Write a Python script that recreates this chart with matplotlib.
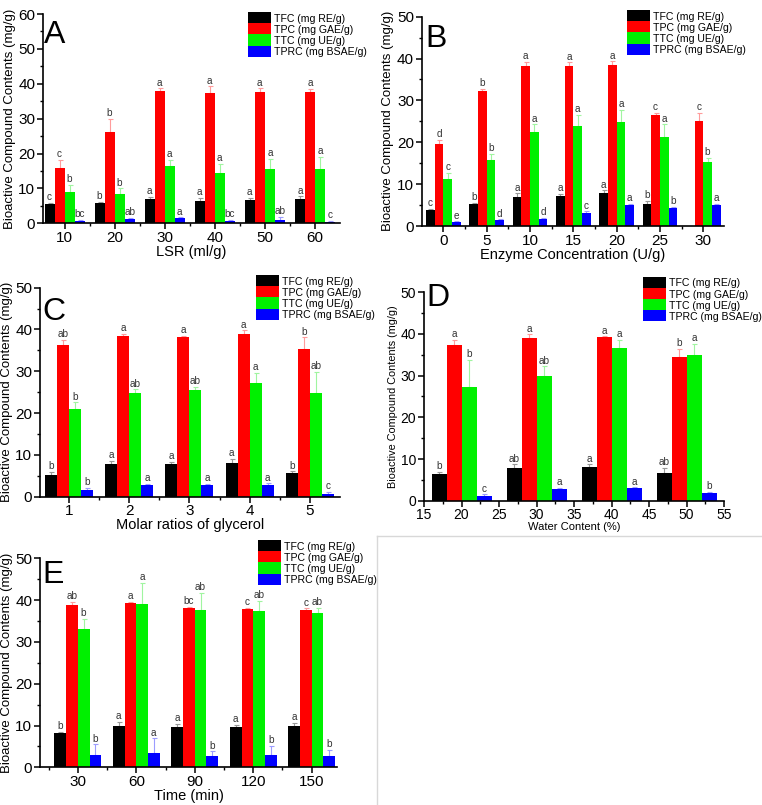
import numpy as np
import matplotlib
matplotlib.use("Agg")
from matplotlib import pyplot as plt
from matplotlib.lines import Line2D
from matplotlib.patches import Rectangle

plt.rcParams['font.family'] = ['Liberation Sans', 'DejaVu Sans']

series_names = ['TFC (mg RE/g)', 'TPC (mg GAE/g)', 'TTC (mg UE/g)', 'TPRC (mg BSAE/g)']

# A: liquid-solid ratio
lsr = [10, 20, 30, 40, 50, 60]
a_tfc = [5.6, 5.8, 7.0, 6.5, 6.7, 6.9]
a_tpc = [15.8, 26.3, 37.9, 37.3, 37.5, 37.7]
a_ttc = [9.0, 8.5, 16.4, 14.5, 15.5, 15.5]
a_tprc = [0.8, 1.2, 1.4, 0.7, 1.0, 0.5]
a_tfc_err = [0.3, 0.3, 0.5, 0.7, 0.5, 0.8]
a_tpc_err = [2.4, 3.6, 0.8, 2.0, 1.2, 0.8]
a_ttc_err = [2.0, 1.5, 1.8, 2.5, 3.0, 3.5]
a_tprc_err = [0.2, 0.3, 0.3, 0.2, 0.8, 0.2]
a_tfc_lab = ['c', 'b', 'a', 'a', 'a', 'a']
a_tpc_lab = ['c', 'b', 'a', 'a', 'a', 'a']
a_ttc_lab = ['b', 'b', 'a', 'a', 'a', 'a']
a_tprc_lab = ['bc', 'ab', 'a', 'bc', 'ab', 'c']

# B: enzyme concentration
enzyme = [0, 5, 10, 15, 20, 25, 30]
b_tfc = [3.8, 5.2, 7.0, 7.1, 7.8, 5.2, np.nan]
b_tpc = [19.7, 32.2, 38.2, 38.3, 38.5, 26.5, 25.0]
b_ttc = [11.2, 15.8, 22.5, 24.0, 24.8, 21.3, 15.3]
b_tprc = [0.9, 1.4, 1.7, 3.2, 5.0, 4.2, 5.0]
b_tfc_err = [0.3, 0.4, 0.8, 0.5, 0.7, 0.8, 0.0]
b_tpc_err = [0.8, 0.5, 1.0, 0.8, 0.8, 0.5, 2.0]
b_ttc_err = [1.5, 1.5, 1.8, 2.5, 3.0, 3.0, 1.0]
b_tprc_err = [0.2, 0.2, 0.2, 0.3, 0.3, 0.3, 0.3]
b_tfc_lab = ['c', 'b', 'a', 'a', 'a', 'b', '']
b_tpc_lab = ['d', 'b', 'a', 'a', 'a', 'c', 'c']
b_ttc_lab = ['c', 'b', 'a', 'a', 'a', 'a', 'b']
b_tprc_lab = ['e', 'd', 'd', 'c', 'a', 'b', 'a']

# C: molar ratio of glycerol
glycerol = [1, 2, 3, 4, 5]
c_tfc = [5.2, 7.9, 7.8, 8.0, 5.6]
c_tpc = [36.3, 38.5, 38.1, 38.9, 35.3]
c_ttc = [21.1, 24.9, 25.5, 27.3, 24.9]
c_tprc = [1.7, 2.8, 2.8, 2.9, 0.6]
c_tfc_err = [0.7, 0.6, 0.6, 1.0, 0.5]
c_tpc_err = [1.3, 0.5, 0.3, 0.9, 2.8]
c_ttc_err = [1.5, 0.8, 0.8, 2.3, 5.0]
c_tprc_err = [0.5, 0.3, 0.2, 0.3, 0.6]
c_tfc_lab = ['b', 'a', 'a', 'a', 'b']
c_tpc_lab = ['ab', 'a', 'a', 'a', 'b']
c_ttc_lab = ['b', 'ab', 'ab', 'a', 'ab']
c_tprc_lab = ['b', 'a', 'a', 'a', 'c']

# D: water content
water = [20, 30, 40, 50]
d_tfc = [6.4, 7.9, 8.2, 6.7]
d_tpc = [37.3, 38.9, 39.2, 34.4]
d_ttc = [27.2, 30.0, 36.5, 35.0]
d_tprc = [1.1, 2.9, 3.0, 1.9]
d_tfc_err = [0.6, 0.8, 0.5, 1.1]
d_tpc_err = [1.2, 1.0, 0.2, 2.0]
d_ttc_err = [6.5, 2.2, 2.0, 2.6]
d_tprc_err = [0.4, 0.2, 0.2, 0.2]
d_tfc_lab = ['b', 'ab', 'a', 'ab']
d_tpc_lab = ['a', 'a', 'a', 'b']
d_ttc_lab = ['b', 'ab', 'a', 'a']
d_tprc_lab = ['c', 'a', 'a', 'b']

# E: extraction time
time_min = [30, 60, 90, 120, 150]
e_tfc = [8.2, 10.0, 9.6, 9.7, 9.8]
e_tpc = [38.8, 39.2, 38.1, 37.9, 37.7]
e_ttc = [33.2, 39.0, 37.7, 37.5, 36.9]
e_tprc = [3.0, 3.4, 2.8, 2.9, 2.8]
e_tfc_err = [0.3, 0.8, 0.8, 0.4, 0.8]
e_tpc_err = [0.8, 0.3, 0.3, 0.2, 0.3]
e_ttc_err = [2.3, 5.2, 4.0, 2.3, 1.3]
e_tprc_err = [2.5, 3.5, 1.0, 2.2, 1.3]
e_tfc_lab = ['b', 'a', 'a', 'a', 'a']
e_tpc_lab = ['ab', 'a', 'bc', 'c', 'c']
e_ttc_lab = ['b', 'a', 'ab', 'ab', 'ab']
e_tprc_lab = ['b', 'a', 'b', 'b', 'b']

bar_colors = ['#000000', '#ff0000', '#00f000', '#0000ff']
err_colors = ['#999999', '#ff9c9c', '#a0f5a0', '#9c9cff']

W, H = 762, 805


def rect(l, r, t, b):
    return [l / W, 1 - b / H, (r - l) / W, (b - t) / H]


def add_legend(fig, x0, y0, row=11.2, pw=23):
    # Origin-style legend: contiguous colour blocks with labels
    for i, name in enumerate(series_names):
        top = y0 + i * row
        fig.add_artist(Rectangle((x0 / W, 1 - (top + row) / H), pw / W, row / H,
                                 transform=fig.transFigure, color=bar_colors[i],
                                 linewidth=0))
        fig.text((x0 + pw + 3) / W, 1 - (top + row / 2) / H, name,
                 fontsize=7.6, va='center_baseline', ha='left')


def draw_panel(ax, x, vals, errs, labs, width, xlim, ylim, xticks, xlabel,
               letter, letter_off, leg_xy, lab_fs=10.5, ylab_fs=9.5, tick_fs=11):
    x = np.asarray(x, dtype=float)
    for i in range(4):
        pos = x + (i - 1.5) * width
        v = np.asarray(vals[i], dtype=float)
        e = np.asarray(errs[i], dtype=float)
        ax.bar(pos, v, width, color=bar_colors[i], linewidth=0, zorder=2)
        ok = ~np.isnan(v)
        ax.errorbar(pos[ok], v[ok], yerr=[np.zeros(ok.sum()), e[ok]], fmt='none',
                    ecolor=err_colors[i], elinewidth=0.8, capsize=1.8,
                    capthick=0.8, zorder=1)
        for p, vv, ee, t in zip(pos, v, e, labs[i]):
            if t and not np.isnan(vv):
                ax.annotate(t, (p, vv + ee), xytext=(0, 0.5),
                            textcoords='offset points', ha='center',
                            va='bottom', fontsize=7.2, color='#333333')
    ax.set_xlim(*xlim)
    ax.set_ylim(*ylim)
    ax.set_xticks(xticks)
    step = xticks[1] - xticks[0]
    minor = [t + step / 2 for t in xticks[:-1]]
    if xticks[0] - step / 2 > xlim[0]:
        minor.append(xticks[0] - step / 2)
    if xticks[-1] + step / 2 < xlim[1]:
        minor.append(xticks[-1] + step / 2)
    ax.set_xticks(minor, minor=True)
    ax.set_yticks(np.arange(0, ylim[1] + 1, 10))
    ax.set_yticks(np.arange(5, ylim[1], 10), minor=True)
    for s in ['top', 'right']:
        ax.spines[s].set_visible(False)
    for s in ['left', 'bottom']:
        ax.spines[s].set_linewidth(1.2)
    ax.tick_params(which='major', direction='out', length=4, width=1.1,
                   labelsize=tick_fs, pad=1.5)
    ax.tick_params(which='minor', direction='out', length=2.5, width=1.0)
    ax.set_xlabel(xlabel, fontsize=lab_fs, labelpad=0)
    ax.set_ylabel('Bioactive Compound Contents (mg/g)', fontsize=ylab_fs,
                  labelpad=2)
    ax.annotate(letter, (0, 1), xycoords='axes fraction',
                xytext=letter_off, textcoords='offset pixels',
                fontsize=23, va='baseline', ha='left')
    add_legend(ax.figure, *leg_xy)


fig = plt.figure(figsize=(W / 100, H / 100), dpi=100)

axA = fig.add_axes(rect(43, 340, 14, 223.3))
draw_panel(axA, lsr, [a_tfc, a_tpc, a_ttc, a_tprc],
           [a_tfc_err, a_tpc_err, a_ttc_err, a_tprc_err],
           [a_tfc_lab, a_tpc_lab, a_ttc_lab, a_tprc_lab],
           2, (5.7, 65), (0, 60), lsr, 'LSR (ml/g)', 'A', (1, -29), (248, 12))

axB = fig.add_axes(rect(421.7, 724, 16.7, 226))
draw_panel(axB, enzyme, [b_tfc, b_tpc, b_ttc, b_tprc],
           [b_tfc_err, b_tpc_err, b_ttc_err, b_tprc_err],
           [b_tfc_lab, b_tpc_lab, b_ttc_lab, b_tprc_lab],
           1, (-2.5, 32.4), (0, 50), enzyme, 'Enzyme Concentration (U/g)',
           'B', (4, -30), (626.7, 10))

axC = fig.add_axes(rect(40, 340, 287.7, 496.7))
draw_panel(axC, glycerol, [c_tfc, c_tpc, c_ttc, c_tprc],
           [c_tfc_err, c_tpc_err, c_ttc_err, c_tprc_err],
           [c_tfc_lab, c_tpc_lab, c_ttc_lab, c_tprc_lab],
           0.2, (0.52, 5.5), (0, 50), glycerol, 'Molar ratios of glycerol',
           'C', (2, -32), (256, 275))

axD = fig.add_axes(rect(424, 724, 292.2, 500.7))
draw_panel(axD, water, [d_tfc, d_tpc, d_ttc, d_tprc],
           [d_tfc_err, d_tpc_err, d_ttc_err, d_tprc_err],
           [d_tfc_lab, d_tpc_lab, d_ttc_lab, d_tprc_lab],
           2, (15, 55), (0, 50), list(range(15, 56, 5)), 'Water Content (%)',
           'D', (2, -14), (643.3, 276.7), lab_fs=8, ylab_fs=7.8, tick_fs=10)

axE = fig.add_axes(rect(40, 337, 558.3, 767.3))
draw_panel(axE, time_min, [e_tfc, e_tpc, e_ttc, e_tprc],
           [e_tfc_err, e_tpc_err, e_ttc_err, e_tprc_err],
           [e_tfc_lab, e_tpc_lab, e_ttc_lab, e_tprc_lab],
           6, (10.6, 163), (0, 50), time_min, 'Time (min)',
           'E', (2, -25), (258.3, 540))

# border of the empty sixth cell
fig.add_artist(Line2D([377 / W, 377 / W], [0, 1 - 536 / H], color='#d8d8d8', lw=1))
fig.add_artist(Line2D([377 / W, 1], [1 - 536 / H, 1 - 536 / H], color='#d8d8d8', lw=1))

fig.savefig('out.png', dpi=100)
